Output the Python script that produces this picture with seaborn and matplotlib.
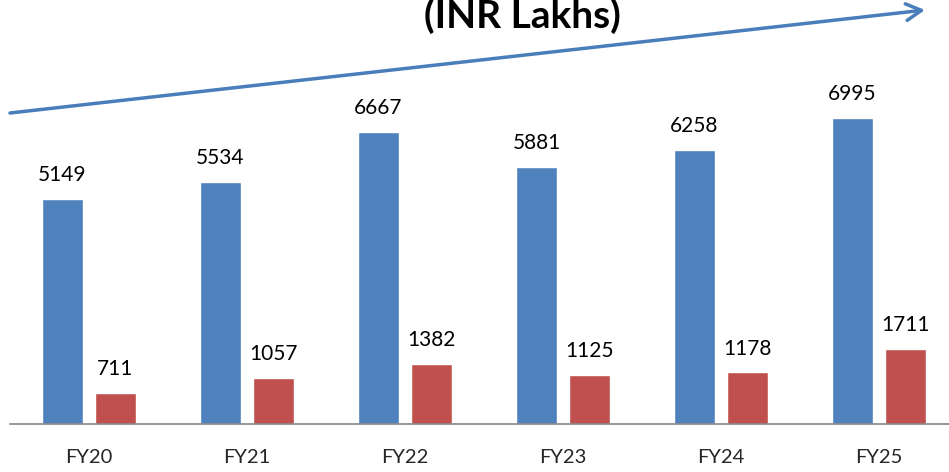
import matplotlib
matplotlib.use("Agg")
import matplotlib.pyplot as plt
import pandas as pd
import seaborn as sns

# %%% Donnees du graphique %%%
years = ["FY20", "FY21", "FY22", "FY23", "FY24", "FY25"]
revenue = [5149, 5534, 6667, 5881, 6258, 6995]
profit = [711, 1057, 1382, 1125, 1178, 1711]
series_names = ["Revenue", "Profit"]
title_text = "(INR Lakhs)"

df = pd.DataFrame({
    "year": years * 2,
    "value": revenue + profit,
    "series": [series_names[0]] * len(years) + [series_names[1]] * len(years),
})

sns.set_style("white")
plt.rcParams["font.family"] = ["Lato", "DejaVu Sans"]

W, H = 949, 472
fig = plt.figure(figsize=(W / 100, H / 100), dpi=100)
# axes: baseline at y=424px, starts at x=10px, one category = 158px
ax = fig.add_axes([10 / W, (H - 424) / H, 948 / W, 424 / H])

sns.barplot(data=df, x="year", y="value", hue="series",
            palette=["#4F81BD", "#C0504D"], width=0.67, gap=0.21,
            saturation=1, legend=False, ax=ax)

ax.set_xlim(-0.5, 5.5)
ax.set_ylim(0, 9690)
for c in ax.containers:
    ax.bar_label(c, fmt="%d", padding=10, fontsize=15, color="black")

ax.set_xlabel("")
ax.set_ylabel("")
ax.set_yticks([])
ax.tick_params(axis="x", length=0, labelsize=14.5, pad=18)
for s in ["top", "right", "left"]:
    ax.spines[s].set_visible(False)
ax.spines["bottom"].set_color("#868686")
ax.spines["bottom"].set_linewidth(1.2)

# fleche de tendance
ax.annotate("", xy=(925 / W, 1 - 10 / H), xytext=(10 / W, 1 - 113 / H),
            xycoords="figure fraction", textcoords="figure fraction",
            arrowprops=dict(arrowstyle="->,head_length=1.1,head_width=0.6",
                            color="#4A7EBB", lw=2.5, shrinkA=0, shrinkB=0))

fig.text(522 / W, 1 - 28 / H, title_text, ha="center", va="baseline",
         fontsize=28, fontweight="bold", color="black")

fig.savefig("out.png", dpi=100)
